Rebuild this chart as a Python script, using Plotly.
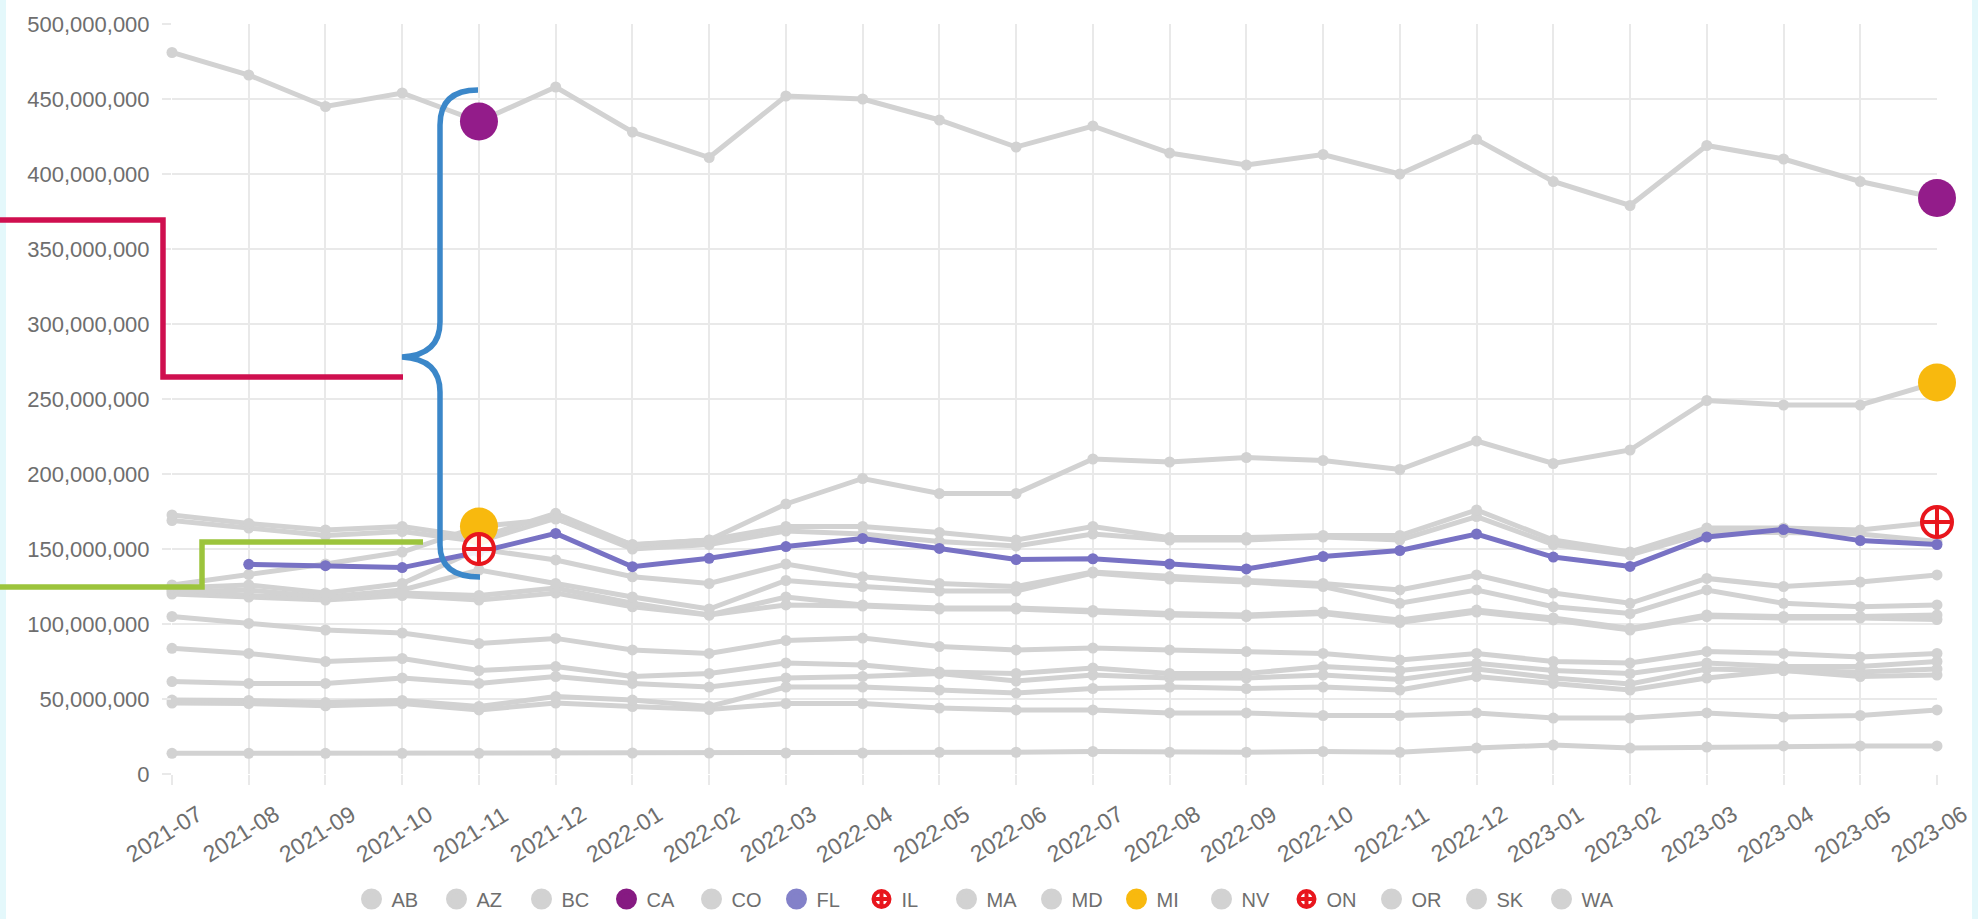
import plotly.graph_objects as go

# ---------------- data (values in millions) ----------------
months = ["2021-07", "2021-08", "2021-09", "2021-10", "2021-11", "2021-12",
          "2022-01", "2022-02", "2022-03", "2022-04", "2022-05", "2022-06",
          "2022-07", "2022-08", "2022-09", "2022-10", "2022-11", "2022-12",
          "2023-01", "2023-02", "2023-03", "2023-04", "2023-05", "2023-06"]

states = ["AB", "AZ", "BC", "CA", "CO", "FL", "IL", "MA", "MD", "MI",
          "NV", "ON", "OR", "SK", "WA"]

AB = [83.8, 80.4, 75, 77, 69, 71.6, 65, 67, 74, 72.7, 68, 67, 70.7, 67, 67, 71.6, 69, 73.8, 69, 67, 74, 71.6, 71.6, 75]
AZ = [169, 164, 159, 161.6, 155, 170.4, 150, 153, 162, 160, 155, 152, 160, 156, 156, 158, 156, 171.6, 153, 146, 161, 161, 160, 155]
BC = [121.5, 122.7, 118, 122.7, 136, 127, 118, 110, 129, 125, 122, 122, 134, 130, 128, 125, 113.8, 122.7, 111.5, 107, 122.7, 113.8, 111.5, 112.7]
CA = [481, 466, 445, 454, 435, 458, 428, 411, 452, 450, 436, 418, 432, 414, 406, 413, 400, 423, 395, 379, 419, 410, 395, 384]
CO = [123, 119, 117, 120.6, 119, 124, 113.8, 106, 118, 112.7, 110.7, 110.7, 109, 107, 106, 108, 102.7, 109.3, 104, 97, 106, 105, 105, 106]
FL = [None, 139.8, 138.9, 137.6, 148, 160.4, 138.2, 143.8, 151.6, 157, 150.4, 143, 143.5, 140, 136.7, 145, 149, 160, 144.6, 138.4, 158, 163, 155.6, 153]
IL = [124, 126, 120.6, 127, 150, 142.7, 131.5, 127, 140, 131.5, 127, 125, 134.7, 131.6, 129, 127, 122.7, 132.7, 120.6, 113.8, 130.4, 125, 128, 132.7]
MA = [61.6, 60.4, 60.4, 64, 60.4, 65, 60.4, 58, 64, 65, 67, 62, 66, 64, 64, 66, 63, 70, 64, 60, 70, 69, 68, 70]
MD = [105, 100.4, 96, 94, 87, 90.4, 82.7, 80.4, 89, 90.6, 85, 82.7, 84, 82.7, 81.6, 80.4, 76, 80.4, 75, 74, 81.6, 80.4, 78, 80.4]
MI = [126, 133, 140, 148, 165, 170, 153, 156, 180, 197, 187, 187, 210, 208, 211, 209, 203, 222, 207, 216, 249, 246, 246, 261]
NV = [49.3, 49, 47.6, 49, 45, 51.6, 49.3, 45, 58, 58, 56, 54, 57, 58, 57, 58, 56, 65, 60.4, 56, 64, 69, 65, 66]
ON = [172.7, 167, 162.7, 165, 157.6, 173.8, 152.7, 156, 165, 165, 161, 156, 165, 157.6, 157.6, 159, 159, 176, 156, 148, 164, 164, 162.7, 168]
OR = [47.3, 47, 45.5, 47, 42.7, 47.3, 45, 43, 47, 47, 44, 42.7, 42.7, 40.7, 40.7, 39, 39, 40.7, 37.3, 37.3, 40.7, 38, 39, 42.7]
SK = [13.8, 13.8, 13.8, 13.8, 13.8, 13.8, 14, 14, 14, 14, 14.5, 14.5, 15, 14.5, 14.5, 15, 14.5, 17.3, 19.3, 17.3, 18, 18.7, 18.7, 18.7]
WA = [120, 118, 116, 119, 116, 120.6, 111.5, 106, 112.7, 112, 110, 110, 108, 106, 105, 107, 101, 108, 102.7, 96, 105, 104, 104, 103]

series = {"AB": AB, "AZ": AZ, "BC": BC, "CA": CA, "CO": CO, "FL": FL, "IL": IL,
          "MA": MA, "MD": MD, "MI": MI, "NV": NV, "ON": ON, "OR": OR, "SK": SK, "WA": WA}

# highlighted points (state -> months)
highlights = {"CA": ["2021-11", "2023-06"], "MI": ["2021-11", "2023-06"],
              "IL": ["2021-11"], "ON": ["2023-06"]}

# ---------------- styles ----------------
GREY = "#d2d2d2"
FL_COLOR = "#7872c4"
CA_COLOR = "#931c8a"
MI_COLOR = "#f8b90e"
RED = "#e8161d"
TXT = "#6e6e6e"
legend_color = {"CA": "#861a82", "FL": "#8381c9", "MI": MI_COLOR}
draw_order = ["SK", "OR", "WA", "NV", "MA", "AB", "MD", "CO", "BC", "IL", "AZ", "ON", "MI", "CA", "FL"]

W, H = 1978, 919
ML, MR, MT, MB = 172, 41, 24, 145

fig = go.Figure()

# lines
for s in draw_order:
    vals = series[s]
    col = FL_COLOR if s == "FL" else GREY
    fig.add_trace(go.Scatter(
        x=months, y=[None if v is None else v * 1e6 for v in vals],
        mode="lines+markers", name=s, showlegend=False, legendgroup=s,
        line=dict(color=col, width=5), marker=dict(color=col, size=11),
        cliponaxis=False, hoverinfo="x+y+name"))

# highlighted markers
for s, ms in highlights.items():
    vals = series[s]
    ys = [vals[months.index(m)] * 1e6 for m in ms]
    if s in ("IL", "ON"):
        mk = dict(symbol="circle-cross", size=30, color="rgba(255,255,255,0.9)",
                  line=dict(color=RED, width=4))
    else:
        mk = dict(symbol="circle", size=38, color=CA_COLOR if s == "CA" else MI_COLOR,
                  line=dict(width=0))
    fig.add_trace(go.Scatter(x=ms, y=ys, mode="markers", showlegend=False,
                             legendgroup=s, name=s, marker=mk, cliponaxis=False))

# legend entries
for s in states:
    if s in ("IL", "ON"):
        mk = dict(symbol="circle-cross", size=16, color="white", line=dict(color=RED, width=4))
    else:
        c = legend_color.get(s, GREY)
        mk = dict(symbol="circle", size=16, color=c, line=dict(color=c, width=5))
    fig.add_trace(go.Scatter(x=[None], y=[None], mode="markers", name=s,
                             legendgroup=s, marker=mk, showlegend=True))

# ---------------- annotation strokes (pixel -> paper) ----------------
PW, PH = W - ML - MR, H - MT - MB


def px(x):
    return (x - ML) / PW


def py(y):
    return (H - MB - y) / PH


def path(cmds):
    out = []
    for c in cmds:
        if isinstance(c, str):
            out.append(c)
        else:
            out.append(f"{px(c[0]):.5f},{py(c[1]):.5f}")
    return " ".join(out)


red_path = path(["M", (0, 220), "L", (163, 220), "L", (163, 377), "L", (403, 377)])
green_path = path(["M", (0, 587), "L", (202, 587), "L", (202, 542), "L", (423, 542)])
blue_path = path(["M", (478, 90), "Q", (440, 90), (440, 125), "L", (440, 322),
                  "Q", (440, 355), (402, 357), "Q", (440, 359), (440, 392),
                  "L", (440, 545), "Q", (440, 577), (480, 577)])

shapes = [
    dict(type="rect", xref="paper", yref="paper", x0=px(0), x1=px(6), y0=py(H), y1=py(0),
         fillcolor="#e4f8fb", line=dict(width=0), layer="below"),
    dict(type="rect", xref="paper", yref="paper", x0=px(W - 6), x1=px(W), y0=py(H), y1=py(0),
         fillcolor="#e4f8fb", line=dict(width=0), layer="below"),
    dict(type="path", xref="paper", yref="paper", path=red_path,
         line=dict(color="#cf0f4f", width=5.5), layer="above"),
    dict(type="path", xref="paper", yref="paper", path=green_path,
         line=dict(color="#9cc43c", width=5.5), layer="above"),
    dict(type="path", xref="paper", yref="paper", path=blue_path,
         line=dict(color="#3b87c9", width=5.5), layer="above"),
]

# rotated month labels, centred under each tick
month_labels = [dict(x=m, y=0, xref="x", yref="paper", text=m, showarrow=False,
                     textangle=-32, xanchor="center", yanchor="middle",
                     xshift=-8, yshift=-60, font=dict(size=23, color=TXT))
                for m in months]

fig.update_layout(
    width=W, height=H,
    margin=dict(l=ML, r=MR, t=MT, b=MB),
    paper_bgcolor="white", plot_bgcolor="white",
    font=dict(family="Liberation Sans, Arial, sans-serif", color=TXT),
    shapes=shapes,
    annotations=month_labels,
    legend=dict(orientation="h", xref="container", yref="container",
                x=0.5, xanchor="center", y=1 - 899 / H, yanchor="middle",
                entrywidth=40, font=dict(size=20, color=TXT),
                itemsizing="trace", bgcolor="rgba(0,0,0,0)"),
    hovermode="closest",
)

fig.update_xaxes(type="category", categoryorder="array", categoryarray=months,
                 range=[0, len(months) - 1], showgrid=True, gridcolor="#e9e9e9", gridwidth=2,
                 ticks="outside", ticklen=10, tickcolor="#e9e9e9", tickwidth=2,
                 showticklabels=False, showline=False, zeroline=False)
fig.update_yaxes(range=[0, 500e6], tick0=0, dtick=50e6, tickformat=",",
                 showgrid=True, gridcolor="#e9e9e9", gridwidth=2,
                 ticks="outside", ticklen=9, tickcolor="#e9e9e9", tickwidth=2,
                 tickfont=dict(size=22, color=TXT), ticklabelstandoff=8,
                 showline=False, zeroline=False)

fig.write_html("out.html", config={"displayModeBar": False},
               post_script="document.body.style.margin='0';document.body.style.overflow='hidden';")
